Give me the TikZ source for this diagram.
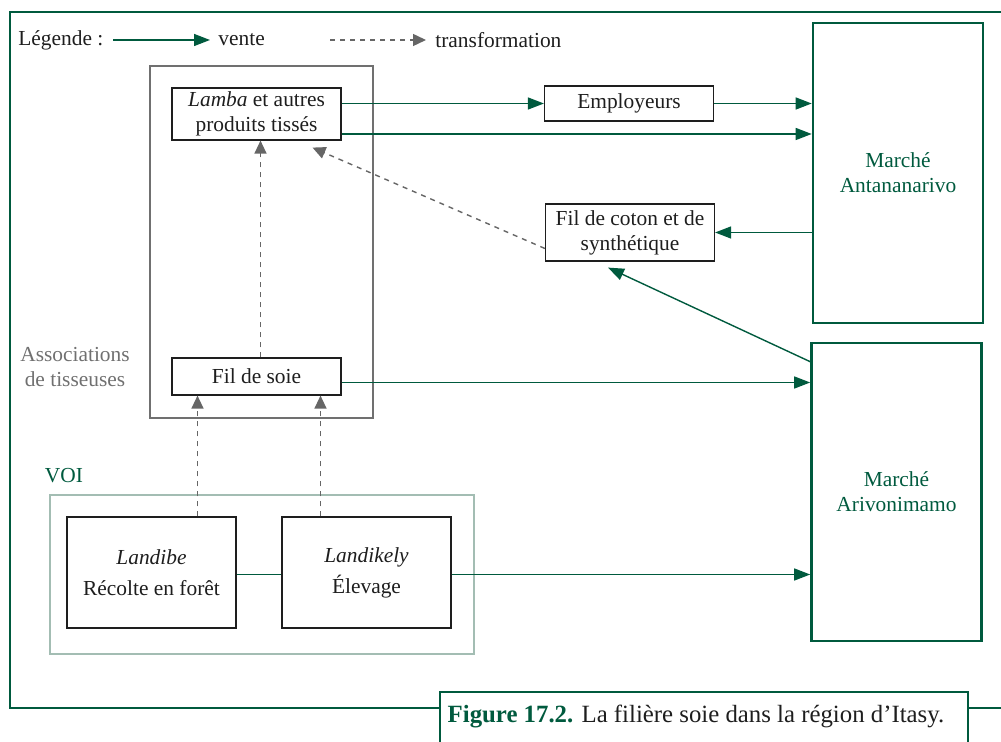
\documentclass[tikz,border=0pt]{standalone}
\usepackage{fontspec}
\setmainfont{Liberation Serif}
\usepackage{tikz}
\usetikzlibrary{arrows.meta,positioning,calc}
\definecolor{soiegreen}{RGB}{0,90,62}
\definecolor{assocgray}{RGB}{112,112,112}
\definecolor{voigreen}{RGB}{163,189,179}
\definecolor{dashgray}{RGB}{102,102,102}
\definecolor{textblack}{RGB}{30,30,30}

\begin{document}
\begin{tikzpicture}[x=0.5pt, y=-0.5pt,
    every node/.style={font=\fontsize{10.7}{12.5}\selectfont, text=textblack},
    product/.style={rectangle, draw=textblack, line width=0.6pt, fill=white, minimum width=84.5pt, minimum height=#1, inner sep=0pt, align=center},
    market/.style={rectangle, draw=soiegreen, line width=1.3pt, minimum width=85pt, minimum height=150pt, inner sep=0pt, align=center, text=soiegreen},
    group/.style={rectangle, draw=#1, line width=1.3pt, inner sep=0pt},
    vente/.style={-{Triangle[length=8pt,width=6pt]}, soiegreen, line width=0.7pt},
    transfo/.style={-{Triangle[length=6.5pt,width=6pt]}, dashgray, line width=0.7pt, dash pattern=on 2.5pt off 2.5pt},
    tag/.style={align=center, inner sep=0pt}
  ]
    \useasboundingbox (0,0) rectangle (1001,742);

    % Frame
    \draw[soiegreen, line width=1.2pt] (1005,12) -- (10,12) -- (10,708) -- (440,708);
    \draw[soiegreen, line width=1.2pt] (968,708) -- (1005,708);
    \draw[soiegreen, line width=1.2pt, fill=white] (440,746) -- (440,692) -- (968,692) -- (968,746);
    \node[tag, anchor=base, font=\fontsize{12.4}{14}\selectfont] (caption) at (696,722) {\textcolor{soiegreen}{\textbf{Figure 17.2.}} La filière soie dans la région d’Itasy.};

    % Legend
    \node[tag, anchor=west] (legende) at (18,40) {Légende :};
    \coordinate (venteA) at (113,40);
    \coordinate (venteB) at (210,40);
    \draw[vente] (venteA) -- (venteB);
    \node[tag, anchor=west] (ventetxt) at (218,40) {vente};
    \coordinate (transfoA) at (330,40);
    \coordinate (transfoB) at (426,40);
    \draw[transfo] (transfoA) -- (transfoB);
    \node[tag, anchor=west] (transfotxt) at (435,40) {transformation};

    % Associations de tisseuses
    \node[group=assocgray, minimum width=111.5pt, minimum height=176pt] (assoc) at (261.5,242) {};
    \node[product=26pt] (lamba) at (256.5,114) {\textit{Lamba} et autres\\produits tissés};
    \node[product=18.5pt] (soie) at (256.5,376.5) {Fil de soie};
    \node[tag, text=assocgray] (assoclbl) at (75,367) {Associations\\de tisseuses};

    % VOI
    \node[group=voigreen, minimum width=212pt, minimum height=79.5pt] (voi) at (262,574.5) {};
    \node[tag, text=soiegreen] (voilbl) at (64,476) {VOI};
    \node[product=55.5pt] (landibe) at (151.5,572.5) {\textit{Landibe}\\[3pt]Récolte en forêt};
    \node[product=55.5pt] (landikely) at (366.5,572.5) {\textit{Landikely}\\[3pt]Élevage};

    % Intermediate products
    \node[product=17.5pt] (employeurs) at (629,103.5) {Employeurs};
    \node[product=28.5pt] (coton) at (630,232.5) {Fil de coton et de\\synthétique};

    % Markets
    \node[market] (tana) at (898,173) {Marché\\Antananarivo};
    \node[market, minimum height=149pt] (arivo) at (896.5,492) {Marché\\Arivonimamo};

    % Sales
    \draw[vente] (lamba.east |- employeurs.west) -- (employeurs.west);
    \draw[vente] (employeurs.east) -- (employeurs.east -| tana.west);
    \draw[vente] ([yshift=-10pt]lamba.east) -- ([yshift=-10pt]lamba.east -| tana.west);
    \draw[vente] (tana.west |- coton.east) -- (coton.east);
    \draw[vente] ([yshift=-10pt]arivo.north west) -- ([xshift=-11pt,yshift=-3pt]coton.south);
    \draw[vente] ([yshift=-3pt]soie.east) -- ([yshift=-3pt]soie.east -| arivo.west);
    \draw[soiegreen, line width=0.7pt] ([yshift=-1pt]landibe.east) -- ([yshift=-1pt]landikely.west);
    \draw[vente] ([yshift=-1pt]landikely.east) -- ([yshift=-1pt]landikely.east -| arivo.west);

    % Transformation
    \draw[transfo] ([xshift=23pt]landibe.north) -- ([xshift=23pt]landibe.north |- soie.south);
    \draw[transfo] ([xshift=-23pt]landikely.north) -- ([xshift=-23pt]landikely.north |- soie.south);
    \draw[transfo] ([xshift=2pt]soie.north) -- ([xshift=2pt]lamba.south);
    \draw[transfo] ([yshift=-8pt]coton.west) -- ([xshift=28pt,yshift=-3.5pt]lamba.south);
  \end{tikzpicture}
\end{document}
